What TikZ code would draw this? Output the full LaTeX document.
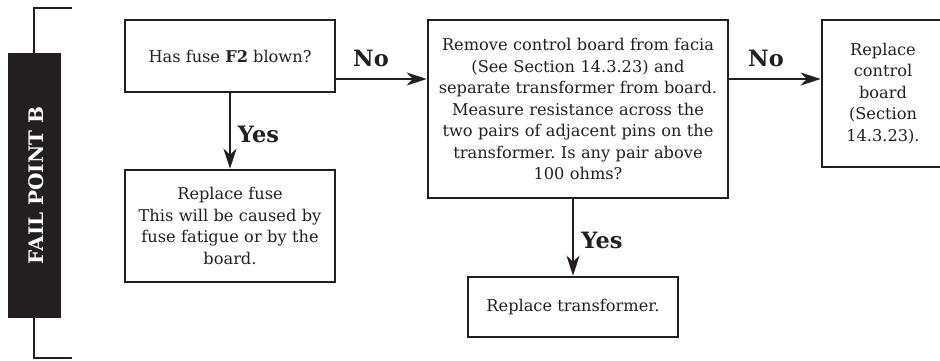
\documentclass[tikz,border=0pt]{standalone}
\usepackage{fontspec}
\setmainfont{DejaVu Serif}
\usetikzlibrary{arrows.meta,calc}
\definecolor{ink}{HTML}{231F20}
\begin{document}
\frenchspacing
\begin{tikzpicture}[x=1pt,y=-1pt,
  boxst/.style={draw=ink,line width=2.6pt,rectangle,inner sep=0pt,align=center,text=ink,
    font=\fontsize{16.2}{21.5}\selectfont\frenchspacing},
  arr/.style={draw=ink,line width=2.5pt,-{Stealth[length=20pt,width=13pt,inset=6pt]}},
  lbl/.style={text=ink,font=\fontsize{22.5}{24}\selectfont\bfseries,inner sep=0pt}]
\useasboundingbox (0,0) rectangle (940,360);
% bracket
\coordinate (bt) at (72,8);
\coordinate (bb) at (72,358);
\draw[ink,line width=2.6pt] (bt) -- (34,8) -- (34,358) -- (bb);
\node[fill=ink,minimum width=53pt,minimum height=265pt,inner sep=0pt] (fp) at (34.5,185.5) {};
\node[rotate=90,text=white,font=\fontsize{20}{22}\selectfont\bfseries,inner sep=0pt] (fpt) at (36,185.5) {FAIL POINT B};
% boxes
\node[boxst,minimum width=210pt,minimum height=72pt] (b1) at (230,56) {Has fuse \textbf{F2} blown?};
\node[boxst,minimum width=210pt,minimum height=112pt,text width=204pt] (b2) at (230,226)
  {Replace fuse\\This will be caused by\\fuse fatigue or by the\\board.};
\node[boxst,minimum width=300pt,minimum height=178pt,text width=296pt] (b3) at (578,109)
  {Remove control board from facia\\(See Section 14.3.23) and\\separate transformer from board.\\Measure resistance across the\\two pairs of adjacent pins on the\\transformer. Is any pair above\\100 ohms?};
\node[boxst,minimum width=122pt,minimum height=147pt,text width=116pt] (b4) at (883,93.5)
  {Replace\\control\\board\\(Section\\14.3.23).};
\node[boxst,minimum width=210pt,minimum height=60pt] (b5) at (573,307) {Replace transformer.};
% connectors
\coordinate (ny) at (0,79);
\draw[arr] (b1.east |- ny) -- (b3.west |- ny);
\draw[arr] (b3.east |- ny) -- (b4.west |- ny);
\draw[arr] (b1.south) -- (b2.north);
\draw[arr] (b5.north |- b3.south) -- (b5.north);
% labels
\node[lbl] (no1) at (371,58) {No};
\node[lbl] (no2) at (766,58) {No};
\node[lbl] (yes1) at (258.5,134) {Yes};
\node[lbl] (yes2) at (602,240) {Yes};
\end{tikzpicture}
\end{document}
